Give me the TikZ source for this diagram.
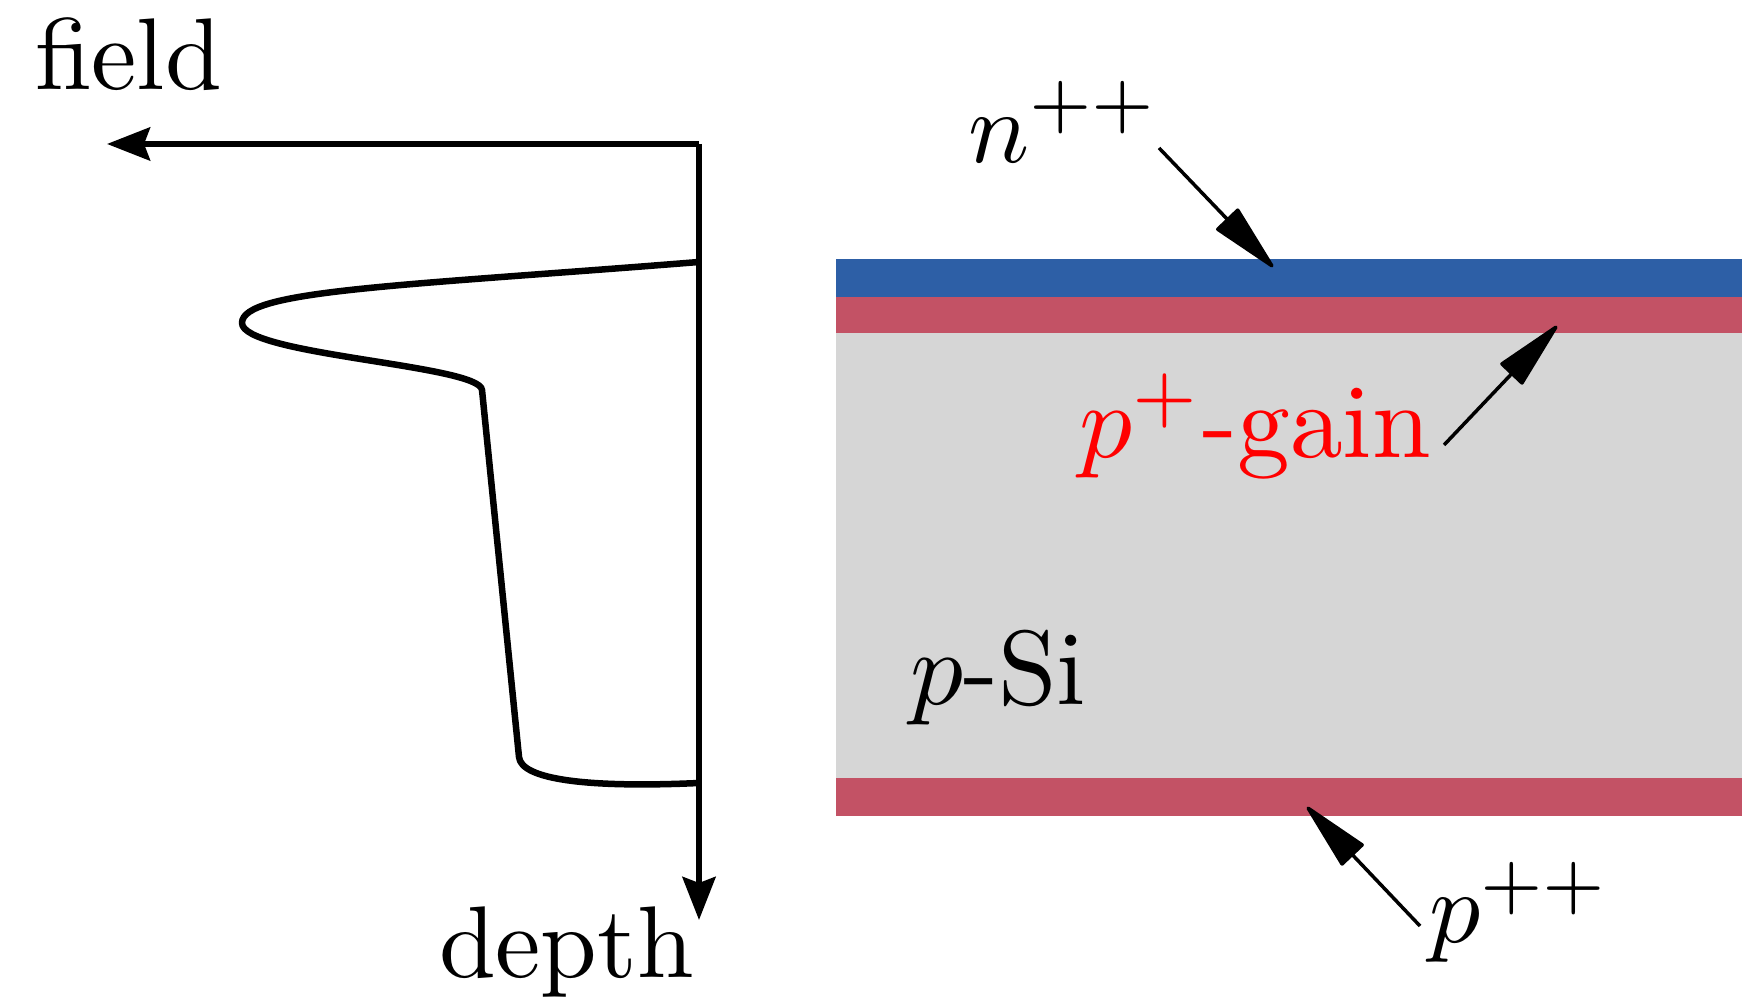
\documentclass[tikz,border=0pt]{standalone}
\usepackage{xcolor,tikz}
\usetikzlibrary{arrows.meta,positioning,calc}
\definecolor{LayerN}{HTML}{2D5FA6}
\definecolor{LayerP}{HTML}{C35265}
\definecolor{LayerSi}{HTML}{D6D6D6}
\tikzset{every node/.style={scale=2.9,inner sep=0pt,anchor=base west},
 region/.style={scale=1.035},
 axis/.style={line width=0.6mm,-{Stealth[length=4.3mm,width=3.3mm,inset=0.6mm]}},
 profile/.style={line width=0.65mm,line join=round},
 pointer/.style={line width=0.35mm,-{Triangle[length=7.4mm,width=3.1mm,round]}}}

\begin{document}
\begin{tikzpicture}
\useasboundingbox (0,0) rectangle (17.42,10);
% wafer layers
\fill[LayerSi] (8.36,2.22) rectangle (17.42,6.67);
\fill[LayerN] (8.36,7.03) rectangle (17.42,7.41);
\fill[LayerP] (8.36,6.67) rectangle (17.42,7.03);
\fill[LayerP] (8.36,1.84) rectangle (17.42,2.22);
% axes
\coordinate (o) at (6.99,8.56);
\coordinate (fx) at (1.07,8.56);
\coordinate (dy) at (6.99,0.80);
\draw[axis] (o)--(fx);
\draw[axis] (o)--(dy);
\node (field) at (0.33,9.10) {field};
\node (depth) at (4.37,0.22) {depth};
% field profile
\draw[profile] (6.99,7.38) .. controls (4.0,7.14) and (2.42,7.1) .. (2.42,6.77)
 .. controls (2.42,6.45) and (4.8,6.35) .. (4.82,6.10) -- (5.19,2.43)
 .. controls (5.21,2.2) and (5.9,2.12) .. (6.99,2.17);
% labels
\node (nlab) at (9.66,8.37) {$n^{++}$};
\node[region,text=red] (glab) at (10.77,5.42) {$p^{+}$-gain};
\node[region] (silab) at (9.08,2.95) {$p$-Si};
\node (plab) at (14.27,0.57) {$p^{++}$};
\coordinate (nfrom) at (11.59,8.52);
\coordinate (nto) at (12.73,7.33);
\coordinate (gfrom) at (14.44,5.55);
\coordinate (gto) at (15.57,6.74);
\coordinate (pfrom) at (14.20,0.74);
\coordinate (pto) at (13.07,1.93);
\draw[pointer] (nfrom)--(nto);
\draw[pointer] (gfrom)--(gto);
\draw[pointer] (pfrom)--(pto);
\end{tikzpicture}
\end{document}
